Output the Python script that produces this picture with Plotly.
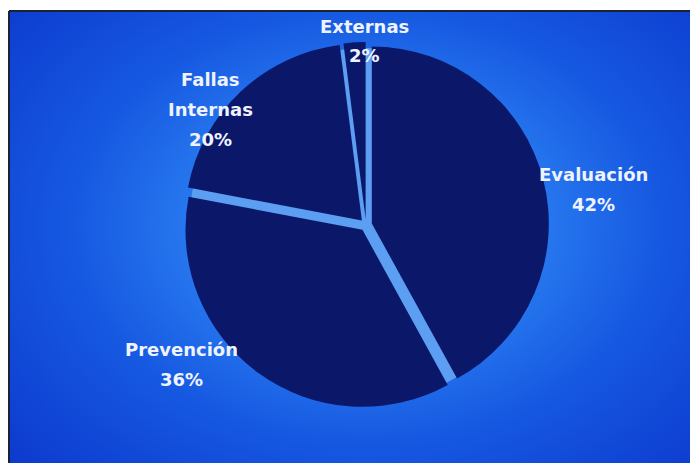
import numpy as np
import plotly.graph_objects as go

# Cost-of-quality breakdown
categories = ["Evaluación", "Prevención", "Fallas Internas", "Externas"]
values = [42, 36, 20, 2]

W, H = 690, 463
ML, MT = 9, 11                      # white frame around the blue panel
PW, PH = W - ML, H - MT             # panel size in px

# pie centre / outer radius in page pixels, and the explode fraction
CX, CY, R = 366, 225, 183
PULL = 0.034

def px_to_paper(x, y):
    return (x - ML) / PW, 1 - (y - MT) / PH

# --- radial glow behind the pie (heatmap on hidden axes) ---
gx = np.linspace(0, PW, 70)
gy = np.linspace(0, PH, 48)
XX, YY = np.meshgrid(gx, gy)
cxp, cyp = CX - ML, CY - MT
t = np.sqrt(((XX - cxp) / 340.0) ** 2 + ((YY - cyp) / 250.0) ** 2)
glow_scale = [
    [0.00, "rgb(125,182,250)"],
    [0.22, "rgb(72,150,246)"],
    [0.37, "rgb(38,118,238)"],
    [0.60, "rgb(22,88,225)"],
    [1.00, "rgb(12,56,204)"],
]

fig = go.Figure()
fig.add_trace(go.Heatmap(
    x=gx, y=gy, z=np.clip(t / 1.45, 0, 1),
    colorscale=glow_scale, zmin=0, zmax=1, zsmooth="best",
    showscale=False, hoverinfo="skip",
))

pcx, pcy = px_to_paper(CX, CY)

# light disc under the exploded slices, visible through the gaps
r_in = R / (1 + PULL)
fig.add_trace(go.Pie(
    values=[1], labels=[""], sort=False,
    marker=dict(colors=["rgb(92,158,242)"], line=dict(width=0)),
    textinfo="none", hoverinfo="skip", showlegend=False,
    domain=dict(x=[pcx - r_in / PW, pcx + r_in / PW],
                y=[pcy - r_in / PH, pcy + r_in / PH]),
))

fig.add_trace(go.Pie(
    labels=categories, values=values,
    sort=False, direction="clockwise", rotation=0,
    pull=[PULL] * len(values),
    marker=dict(colors=["rgb(11,24,106)"] * len(values), line=dict(width=0)),
    textinfo="none", hoverinfo="label+percent",
    domain=dict(x=[pcx - R / PW, pcx + R / PW], y=[pcy - R / PH, pcy + R / PH]),
    showlegend=False,
))

# label lines (text) and their page-pixel anchor points
label_lines = {
    "Evaluación": ["Evaluación"],
    "Prevención": ["Prevención"],
    "Fallas Internas": ["Fallas", "Internas"],
    "Externas": ["Externas"],
}
label_pos = {
    "Evaluación": (593, 174),
    "Prevención": (182, 349),
    "Fallas Internas": (210, 79),
    "Externas": (365, 26),
}
LINE_GAP = 30
total = sum(values)
annotations = []
for cat, val in zip(categories, values):
    lines = label_lines[cat] + [f"{round(100 * val / total)}%"]
    x0, y0 = label_pos[cat]
    for i, txt in enumerate(lines):
        ax, ay = px_to_paper(x0, y0 + i * LINE_GAP)
        annotations.append(dict(
            x=ax, y=ay, xref="paper", yref="paper", text=txt,
            showarrow=False, xanchor="center", yanchor="middle",
            font=dict(family="DejaVu Sans", size=18, color="#eef3ff",
                      weight="bold"),
        ))

fig.update_layout(
    width=W, height=H,
    margin=dict(l=ML, r=0, t=MT, b=0),
    paper_bgcolor="white", plot_bgcolor="rgb(12,56,204)",
    xaxis=dict(visible=False, range=[0, PW], fixedrange=True),
    yaxis=dict(visible=False, range=[PH, 0], fixedrange=True),
    annotations=annotations,
    shapes=[
        dict(type="line", xref="paper", yref="paper", x0=0, x1=1, y0=1, y1=1,
             line=dict(color="#1c2233", width=2)),
        dict(type="line", xref="paper", yref="paper", x0=0, x1=0, y0=0, y1=1,
             line=dict(color="#1c2233", width=2)),
    ],
)

fig.write_html("out.html")
